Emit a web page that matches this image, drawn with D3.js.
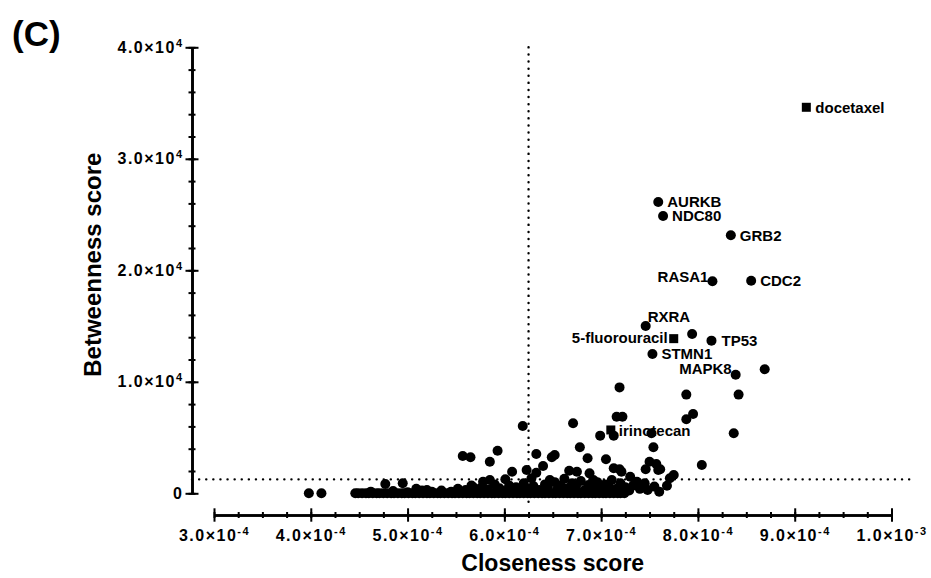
<!DOCTYPE html>
<html>
<head>
<meta charset="utf-8">
<style>
  body { margin: 0; background: #fff; }
  svg { display: block; font-family: "Liberation Sans", Arial, sans-serif; font-weight: bold; }
  .ticklabel { font-size: 16px; letter-spacing: 1.5px; font-weight: bold; font-family: "Liberation Sans", Arial, sans-serif; }
  .ticklabel .exp { font-size: 11px; }
</style>
</head>
<body>
<svg id="chart" width="931" height="578"></svg>
<script src="https://cdn.jsdelivr.net/npm/d3@7"></script>
<script>
// closeness values are in units of 1e-4
// nodes with betweenness 0 (the thick band along the bottom)
const zeroCloseness = [3.98, 4.11,
  4.46, 4.49, 4.53, 4.57, 4.60, 4.64, 4.68, 4.71, 4.75, 4.79, 4.83, 4.86, 4.90, 4.94, 4.97,
  5.01, 5.05, 5.08, 5.12, 5.16, 5.20, 5.23, 5.27, 5.31, 5.34, 5.38, 5.42, 5.46, 5.49, 5.53,
  5.57, 5.61, 5.64, 5.68, 5.72, 5.75, 5.79, 5.83, 5.87, 5.90, 5.94, 5.98, 6.01, 6.05, 6.09,
  6.13, 6.16, 6.20, 6.24, 6.27, 6.31, 6.35, 6.39, 6.42, 6.46, 6.50, 6.53, 6.57, 6.61, 6.65,
  6.68, 6.72, 6.76, 6.79, 6.83, 6.87, 6.91, 6.94, 6.98, 7.02, 7.05, 7.09, 7.13, 7.17, 7.20, 7.24];

// other unlabeled nodes
const geneCloseness = [
  4.62, 4.77, 4.85, 4.95, 5.00, 5.09, 5.15, 5.20, 5.25, 5.35, 5.45, 5.52, 5.60, 5.66, 5.72,
  5.76, 5.83, 5.90, 5.95, 6.03, 6.05, 6.12, 6.16, 6.20, 6.24, 6.30, 6.36, 6.42, 6.45, 6.52,
  6.55, 6.58, 6.62, 6.65, 6.70, 6.74, 6.79, 6.83, 6.87, 6.93, 6.96, 7.00, 7.04, 7.08, 7.11,
  7.16, 7.20, 7.25, 7.29, 7.33, 7.40, 7.48, 7.55, 7.60, 5.68, 5.78, 5.85, 6.47, 6.01, 6.28,
  6.08, 6.23, 6.33, 6.40, 6.67, 6.75, 6.88, 6.92, 7.30, 7.37, 7.45, 7.19, 7.21, 7.13, 7.46,
  7.61, 7.59, 7.57, 7.50, 7.68, 7.71, 7.75, 7.05, 6.86, 6.78, 7.54, 7.52, 6.71, 6.99, 7.13,
  7.16, 7.22, 6.19, 5.57, 5.65, 5.93, 5.85, 6.33, 6.49, 6.52, 7.19, 7.88, 8.42, 8.69, 7.94,
  7.95, 7.88, 8.37, 8.04];
const geneBetweenness = [
  150, 830, 200, 900, 100, 400, 250, 300, 150, 250, 150, 400, 300, 700, 200,
  500, 350, 800, 450, 300, 700, 550, 200, 900, 400, 650, 300, 800, 500, 1000,
  350, 700, 1300, 450, 900, 600, 1100, 300, 750, 500, 1000, 350, 800, 600, 1200,
  400, 900, 550, 250, 700, 400, 300, 600, 150, 540, 1040, 1190, 1190, 1260, 1350,
  1940, 2090, 1850, 2450, 2030, 1940, 1790, 1190, 1490, 1040, 900, 2150, 1940, 2240, 2150,
  2150, 2090, 2630, 2830, 680, 1350, 1640, 3050, 3140, 4130, 4130, 5380, 6280, 5170, 5170,
  6870, 6870, 6040, 3350, 3230, 3820, 2830, 3530, 3230, 3430, 9500, 8850, 8850, 11120, 14290,
  7110, 6640, 5380, 2540];

const labeledGenes = ['AURKB', 'NDC80', 'GRB2', 'RASA1', 'CDC2', 'RXRA', 'TP53', 'STMN1', 'MAPK8'];
const labeledCloseness = [7.59, 7.64, 8.34, 8.15, 8.55, 7.46, 8.14, 7.53, 8.39];
const labeledBetweenness = [26130, 24870, 23140, 19010, 19070, 15000, 13690, 12490, 10640];

const drugs = ['docetaxel', '5-fluorouracil', 'irinotecan'];
const drugCloseness = [9.12, 7.75, 7.10];
const drugBetweenness = [34620, 13870, 5680];

const closenessCutoff = 6.25;
const betweennessCutoff = 1250;

const xTicks = [3, 4, 5, 6, 7, 8, 9, 10];
const xTickText = ['3.0×10', '4.0×10', '5.0×10', '6.0×10', '7.0×10', '8.0×10', '9.0×10', '1.0×10'];
const xTickExp = ['-4', '-4', '-4', '-4', '-4', '-4', '-4', '-3'];
const yTicks = [0, 10000, 20000, 30000, 40000];
const yTickText = ['0', '1.0×10', '2.0×10', '3.0×10', '4.0×10'];
const yTickExp = ['', '4', '4', '4', '4'];

// where each label sits relative to its marker
const labelPlace = {
  docetaxel: ['start', 9, 0],
  AURKB: ['start', 9, 0],
  NDC80: ['start', 9, 0],
  GRB2: ['start', 9, 0],
  CDC2: ['start', 9, 0],
  TP53: ['start', 10, 0],
  STMN1: ['start', 9, 0],
  RASA1: ['end', -4, -5],
  RXRA: ['start', 2, -9],
  '5-fluorouracil': ['end', -6, -1],
  MAPK8: ['end', -4, -6],
  irinotecan: ['start', 8, 1],
};

const svg = d3.select('#chart');
const x = d3.scaleLinear().domain([3, 10]).range([214, 891.5]);
const y = d3.scaleLinear().domain([0, 40000]).range([493.3, 47.3]);
const yAxisX = 192;
const xAxisY = 515;

// panel letter
svg.append('text').attr('x', 12).attr('y', 46).attr('font-size', 35).text('(C)');

// threshold lines
svg.append('line')
  .attr('x1', yAxisX).attr('x2', x(10.2))
  .attr('y1', y(betweennessCutoff)).attr('y2', y(betweennessCutoff))
  .attr('stroke', '#000').attr('stroke-width', 2.4)
  .attr('stroke-linecap', 'round').attr('stroke-dasharray', '0.1,7');
svg.append('line')
  .attr('x1', x(closenessCutoff)).attr('x2', x(closenessCutoff))
  .attr('y1', y(40000)).attr('y2', xAxisY - 7)
  .attr('stroke', '#000').attr('stroke-width', 2.4)
  .attr('stroke-linecap', 'round').attr('stroke-dasharray', '0.1,7');

// y axis: minor then major ticks
const yMinor = svg.append('g').attr('transform', `translate(${yAxisX},0)`)
  .call(d3.axisLeft(y).tickValues(d3.range(0, 40001, 2000)).tickFormat('').tickSizeOuter(0));
yMinor.selectAll('.tick line').attr('x1', 3.5).attr('x2', -3.5);
const yMajor = svg.append('g').attr('transform', `translate(${yAxisX},0)`)
  .call(d3.axisLeft(y).tickValues(yTicks).tickFormat('').tickSizeOuter(0));
yMajor.attr('font-size', null).attr('font-family', null);
yMajor.selectAll('.tick line').attr('x1', 6.5).attr('x2', -6.5);
yMajor.selectAll('.tick text').each(function (d, i) {
  const t = d3.select(this).attr('x', -8.5).attr('class', 'ticklabel');
  t.append('tspan').text(yTickText[i]);
  if (yTickExp[i]) t.append('tspan').attr('class', 'exp').attr('dy', -6).text(yTickExp[i]);
});

// x axis: minor then major ticks
const xMinor = svg.append('g').attr('transform', `translate(0,${xAxisY})`)
  .call(d3.axisBottom(x).tickValues(d3.range(3, 10.01, 0.25)).tickFormat('').tickSizeOuter(0));
xMinor.selectAll('.tick line').attr('y1', -3).attr('y2', 3);
const xMajor = svg.append('g').attr('transform', `translate(0,${xAxisY})`)
  .call(d3.axisBottom(x).tickValues(xTicks).tickFormat('').tickSizeOuter(0));
xMajor.attr('font-size', null).attr('font-family', null);
xMajor.selectAll('.tick line').attr('y1', -6.7).attr('y2', 6.7);
xMajor.selectAll('.tick text').each(function (d, i) {
  const t = d3.select(this).attr('y', 15).attr('class', 'ticklabel');
  t.append('tspan').text(xTickText[i]);
  t.append('tspan').attr('class', 'exp').attr('dy', -6).text(xTickExp[i]);
});

svg.selectAll('.domain').attr('stroke-width', 2.6);
svg.selectAll('.tick line').attr('stroke-width', 2);

// axis titles
svg.append('text')
  .attr('transform', `translate(101,${y(20500)}) rotate(-90)`)
  .attr('text-anchor', 'middle').attr('font-size', 24).text('Betweenness score');
svg.append('text')
  .attr('x', x(6.5)).attr('y', 571)
  .attr('text-anchor', 'middle').attr('font-size', 23).text('Closeness score');

// labels go under the markers
const labels = labeledGenes.map((g, i) => ({ name: g, c: labeledCloseness[i], b: labeledBetweenness[i] }))
  .concat(drugs.map((g, i) => ({ name: g, c: drugCloseness[i], b: drugBetweenness[i] })));
svg.append('g').selectAll('text').data(labels).join('text')
  .attr('x', (d) => x(d.c) + labelPlace[d.name][1])
  .attr('y', (d) => y(d.b) + labelPlace[d.name][2])
  .attr('dy', '0.35em')
  .attr('text-anchor', (d) => labelPlace[d.name][0])
  .attr('font-size', 15)
  .text((d) => d.name);

// gene nodes
const dots = svg.append('g');
dots.selectAll('circle.zero').data(zeroCloseness).join('circle')
  .attr('class', 'zero')
  .attr('cx', (d) => x(d)).attr('cy', y(0)).attr('r', 5);
dots.selectAll('circle.gene').data(geneCloseness).join('circle')
  .attr('class', 'gene')
  .attr('cx', (d) => x(d)).attr('cy', (d, i) => y(geneBetweenness[i])).attr('r', 5);
dots.selectAll('circle.named').data(labeledGenes).join('circle')
  .attr('class', 'named')
  .attr('cx', (d, i) => x(labeledCloseness[i])).attr('cy', (d, i) => y(labeledBetweenness[i])).attr('r', 5);

// drug nodes
dots.selectAll('rect').data(drugs).join('rect')
  .attr('x', (d, i) => x(drugCloseness[i]) - 4.5)
  .attr('y', (d, i) => y(drugBetweenness[i]) - 4.5)
  .attr('width', 9).attr('height', 9);
</script>
</body>
</html>
